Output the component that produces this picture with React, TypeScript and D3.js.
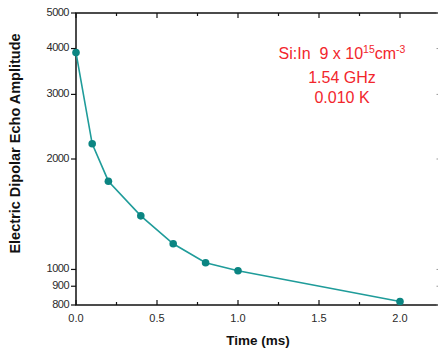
import { useEffect, useRef } from "react"
import * as d3 from "d3"

// data
const times = [0.0, 0.1, 0.2, 0.4, 0.6, 0.8, 1.0, 2.0]
const amplitudes = [3900, 2200, 1740, 1400, 1175, 1043, 992, 818]
const yTicks = [800, 900, 1000, 2000, 3000, 4000, 5000]
const xMajor = [0, 0.5, 1.0, 1.5, 2.0]
const xMinor = [0.25, 0.75, 1.25, 1.75, 2.25]
const noteLines = ["1.54 GHz", "0.010 K"]

export default function App() {
  const svgRef = useRef<SVGSVGElement>(null)

  useEffect(() => {
    if (!svgRef.current) return
    const svg = d3.select(svgRef.current)
    svg.selectAll("*").remove()

    const left = 76
    const right = 440.5
    const top = 13
    const bottom = 305
    const font = "'Liberation Sans', Arial, sans-serif"

    const x = d3.scaleLinear().domain([0, 2.25]).range([left, right])
    const y = d3.scaleLog().domain([800, 5000]).range([bottom, top])

    const g = svg.append("g")

    // frame
    g.append("rect")
      .attr("x", left)
      .attr("y", top)
      .attr("width", right - left)
      .attr("height", bottom - top)
      .attr("fill", "none")
      .attr("stroke", "#111")
      .attr("stroke-width", 1.5)

    // x ticks (bottom inward, top inward)
    const allX = [...xMajor, ...xMinor]
    allX.forEach((t) => {
      const len = xMajor.includes(t) ? 5 : 3
      g.append("line")
        .attr("x1", x(t)).attr("x2", x(t))
        .attr("y1", bottom).attr("y2", bottom - len)
        .attr("stroke", "#111").attr("stroke-width", 1.2)
      g.append("line")
        .attr("x1", x(t)).attr("x2", x(t))
        .attr("y1", top).attr("y2", top + len)
        .attr("stroke", "#111").attr("stroke-width", 1.2)
    })
    xMajor.forEach((t) => {
      g.append("text")
        .attr("x", x(t))
        .attr("y", 322)
        .attr("text-anchor", "middle")
        .style("font-family", font)
        .style("font-size", "11px")
        .style("fill", "#2a2a2a")
        .text(d3.format(".1f")(t))
    })

    // y ticks
    yTicks.forEach((v) => {
      g.append("line")
        .attr("x1", left - 5).attr("x2", left)
        .attr("y1", y(v)).attr("y2", y(v))
        .attr("stroke", "#111").attr("stroke-width", 1.2)
      g.append("line")
        .attr("x1", right).attr("x2", right - 4)
        .attr("y1", y(v)).attr("y2", y(v))
        .attr("stroke", "#999").attr("stroke-width", 1)
      g.append("text")
        .attr("x", 69)
        .attr("y", y(v))
        .attr("text-anchor", "end")
        .attr("dominant-baseline", "middle")
        .style("font-family", font)
        .style("font-size", "11px")
        .style("letter-spacing", "-0.5px")
        .style("fill", "#2a2a2a")
        .text(String(v))
    })

    // line + markers
    const pts = times.map((t, i) => [x(t), y(amplitudes[i])] as [number, number])
    g.append("path")
      .attr("d", d3.line()(pts))
      .attr("fill", "none")
      .attr("stroke", "#1f9c9a")
      .attr("stroke-width", 1.6)
    g.selectAll("circle.pt")
      .data(pts)
      .enter()
      .append("circle")
      .attr("cx", (d) => d[0])
      .attr("cy", (d) => d[1])
      .attr("r", 3.8)
      .attr("fill", "#0b8582")

    // axis titles
    g.append("text")
      .attr("transform", `translate(20, 143.5) rotate(-90)`)
      .attr("text-anchor", "middle")
      .style("font-family", font)
      .style("font-size", "14.5px")
      .style("font-weight", "bold")
      .style("fill", "#111")
      .text("Electric Dipolar Echo Amplitude")

    g.append("text")
      .attr("x", 258)
      .attr("y", 345)
      .attr("text-anchor", "middle")
      .style("font-family", font)
      .style("font-size", "13.5px")
      .style("font-weight", "bold")
      .style("fill", "#111")
      .text("Time (ms)")

    // annotation
    const red = "#f2262c"
    const note = g.append("text")
      .attr("x", 342)
      .attr("y", 59)
      .attr("text-anchor", "middle")
      .attr("xml:space", "preserve")
      .style("white-space", "pre")
      .style("font-family", font)
      .style("font-size", "16px")
      .style("fill", red)
    note.append("tspan").text("Si:In  9 x 10")
    note.append("tspan").attr("dy", -6).style("font-size", "10.5px").text("15")
    note.append("tspan").attr("dy", 6).text("cm")
    note.append("tspan").attr("dy", -6).style("font-size", "10.5px").text("-3")

    noteLines.forEach((s, i) => {
      g.append("text")
        .attr("x", 342)
        .attr("y", 83 + i * 19.5)
        .attr("text-anchor", "middle")
        .style("font-family", font)
        .style("font-size", "16px")
        .style("fill", red)
        .text(s)
    })
  }, [])

  return (
    <svg
      ref={svgRef}
      width={438}
      height={351}
      style={{ position: "fixed", left: 0, top: 0, background: "#fff" }}
    />
  )
}
